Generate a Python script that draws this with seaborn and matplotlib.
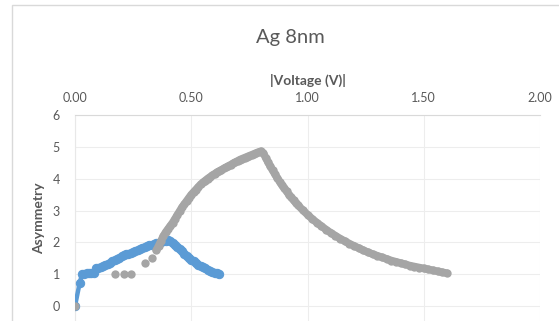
import numpy as np
import pandas as pd
import seaborn as sns
import matplotlib.pyplot as plt
from matplotlib.patches import Rectangle

# blue series (line + markers)
blue_x = [0.00, 0.02, 0.03, 0.04, 0.05, 0.06, 0.07, 0.08, 0.09, 0.10, 0.11, 0.12, 0.13,
          0.14, 0.15, 0.16, 0.17, 0.18, 0.19, 0.20, 0.21, 0.22, 0.23, 0.24, 0.25, 0.26,
          0.27, 0.28, 0.29, 0.30, 0.31, 0.32, 0.33, 0.34, 0.35, 0.36, 0.37, 0.38, 0.39,
          0.40, 0.41, 0.42, 0.43, 0.44, 0.45, 0.46, 0.47, 0.48, 0.49, 0.50, 0.51, 0.52,
          0.53, 0.54, 0.55, 0.56, 0.57, 0.58, 0.59, 0.60, 0.61, 0.62]
blue_y = [0.00, 0.72, 1.00, 1.02, 1.03, 1.03, 1.04, 1.05, 1.18, 1.20, 1.23, 1.26, 1.30,
          1.33, 1.36, 1.40, 1.44, 1.48, 1.52, 1.56, 1.59, 1.62, 1.65, 1.68, 1.71, 1.74,
          1.77, 1.80, 1.83, 1.86, 1.88, 1.91, 1.93, 1.95, 1.97, 1.99, 2.01, 2.03, 2.05,
          2.06, 2.05, 1.99, 1.92, 1.86, 1.79, 1.72, 1.65, 1.58, 1.52, 1.46, 1.40, 1.35,
          1.30, 1.26, 1.22, 1.18, 1.14, 1.11, 1.08, 1.05, 1.03, 1.01]

# gray series (markers only, dense part from 0.35 on)
gray_x = [0.00, 0.17, 0.21, 0.24, 0.30, 0.33, 0.35, 0.36, 0.37, 0.38, 0.39, 0.40, 0.41,
          0.42, 0.43, 0.44, 0.45, 0.46, 0.47, 0.48, 0.49, 0.50, 0.51, 0.52, 0.53, 0.54,
          0.55, 0.56, 0.57, 0.58, 0.59, 0.60, 0.61, 0.62, 0.63, 0.64, 0.65, 0.66, 0.67,
          0.68, 0.69, 0.70, 0.71, 0.72, 0.73, 0.74, 0.75, 0.76, 0.77, 0.78, 0.79, 0.80,
          0.81, 0.82, 0.83, 0.84, 0.85, 0.86, 0.87, 0.88, 0.89, 0.90, 0.91, 0.92, 0.93,
          0.94, 0.95, 0.96, 0.98, 1.00, 1.02, 1.04, 1.06, 1.08, 1.10, 1.12, 1.14, 1.16,
          1.18, 1.20, 1.22, 1.24, 1.26, 1.28, 1.30, 1.32, 1.34, 1.36, 1.38, 1.40, 1.42,
          1.44, 1.46, 1.48, 1.50, 1.52, 1.54, 1.56, 1.58, 1.60]
gray_y = [0.00, 1.00, 1.00, 1.00, 1.35, 1.50, 1.75, 1.90, 2.05, 2.20, 2.32, 2.42, 2.52,
          2.62, 2.74, 2.86, 2.98, 3.10, 3.20, 3.30, 3.40, 3.50, 3.58, 3.66, 3.74, 3.82,
          3.88, 3.94, 4.00, 4.05, 4.10, 4.15, 4.20, 4.24, 4.28, 4.32, 4.36, 4.40, 4.44,
          4.48, 4.52, 4.56, 4.60, 4.63, 4.66, 4.69, 4.72, 4.75, 4.78, 4.81, 4.84, 4.86,
          4.80, 4.66, 4.52, 4.39, 4.26, 4.14, 4.02, 3.91, 3.80, 3.70, 3.60, 3.50, 3.41,
          3.32, 3.24, 3.16, 3.01, 2.87, 2.74, 2.62, 2.51, 2.40, 2.30, 2.21, 2.12, 2.04,
          1.96, 1.89, 1.82, 1.75, 1.69, 1.63, 1.58, 1.53, 1.48, 1.43, 1.39, 1.35, 1.31,
          1.27, 1.24, 1.21, 1.18, 1.15, 1.12, 1.09, 1.06, 1.03]
gray_dense_from = 6

blue_df = pd.DataFrame({"v": blue_x, "a": blue_y})
gray_df = pd.DataFrame({"v": gray_x, "a": gray_y})

BLUE = "#5B9BD5"
GRAY = "#A5A5A5"
TXT = "#595959"

sns.set_style("white")
plt.rcParams["font.family"] = ["Lato", "DejaVu Sans"]

fig = plt.figure(figsize=(5.59, 3.21), dpi=100)
# chart border (Excel chart area)
fig.patches.append(Rectangle((12 / 559, -0.1), 1.0, 1 - 5 / 321 + 0.1, transform=fig.transFigure,
                             fill=False, edgecolor="#D9D9D9", lw=1))
ax = fig.add_axes([75 / 559, 0, 465 / 559, 1 - 115 / 321])

sns.lineplot(data=blue_df, x="v", y="a", ax=ax, color=BLUE, sort=False, estimator=None,
             marker="o", markersize=6, markeredgecolor=BLUE, lw=3.2, zorder=3)
# the dense part of the gray series reads as one thick band
sns.lineplot(data=gray_df.iloc[gray_dense_from:], x="v", y="a", ax=ax, color=GRAY, sort=False,
             estimator=None, lw=5.5, zorder=4)
sns.scatterplot(data=gray_df, x="v", y="a", ax=ax, color=GRAY, s=36, edgecolor=GRAY,
                linewidth=0, zorder=4)

ax.set_xlim(0, 2)
ax.set_ylim(-0.47, 6)
ax.set_xticks([0, 0.5, 1.0, 1.5, 2.0])
ax.set_xticklabels(["0.00", "0.50", "1.00", "1.50", "2.00"])
ax.set_yticks(range(0, 7))
ax.xaxis.tick_top()
ax.xaxis.set_label_position("top")
ax.tick_params(axis="both", length=0, labelsize=9, labelcolor=TXT)
ax.tick_params(axis="x", pad=8)
ax.tick_params(axis="y", pad=11)
ax.grid(True, color="#EDEDED", lw=0.8)
ax.set_axisbelow(True)
for side in ["right", "bottom"]:
    ax.spines[side].set_visible(False)
ax.spines["top"].set_color("#D9D9D9")
ax.spines["left"].set_color("#E8E8E8")

ax.set_xlabel("|Voltage (V)|", fontsize=10, fontweight="bold", color=TXT, labelpad=5)
ax.set_ylabel("Asymmetry", fontsize=10, fontweight="bold", color=TXT, labelpad=5)
fig.text(290 / 559, 1 - 38 / 321, "Ag 8nm", ha="center", va="center", fontsize=14.5, color=TXT)

fig.savefig("out.png", dpi=100)
